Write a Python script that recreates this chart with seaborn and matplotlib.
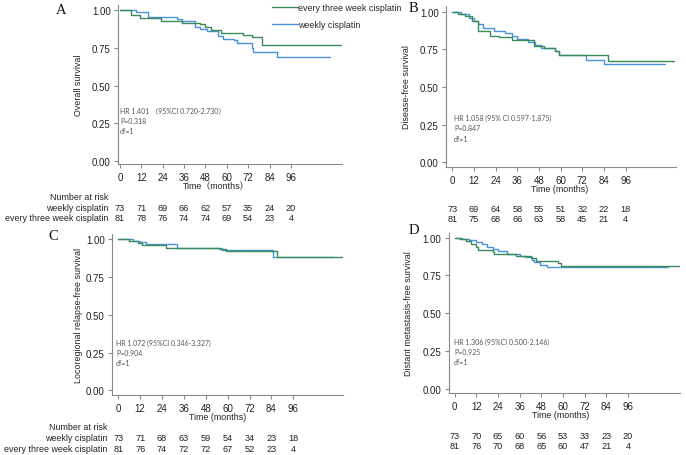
import numpy as np
import pandas as pd
import matplotlib
matplotlib.use("Agg")
import matplotlib.pyplot as plt
import matplotlib.transforms as mtrans
from matplotlib.lines import Line2D
import seaborn as sns

# ---- data (months, survival probability) ----
arms = ["weekly cisplatin", "every three week cisplatin"]
colors = {"weekly cisplatin": "#4a93dc", "every three week cisplatin": "#3b8b58"}

# A: overall survival
a_weekly_t = [0, 9, 16, 32, 35, 42, 45, 49, 55, 58, 64, 66, 74, 75, 88, 118]
a_weekly_s = [1.0, 0.99, 0.955, 0.94, 0.925, 0.89, 0.875, 0.86, 0.83, 0.81, 0.80, 0.78, 0.75, 0.72, 0.69, 0.69]
a_three_t = [0, 6, 11, 23, 35, 45, 48, 51, 57, 69, 74, 80, 124]
a_three_s = [1.0, 0.965, 0.95, 0.927, 0.916, 0.905, 0.885, 0.865, 0.85, 0.835, 0.82, 0.77, 0.77]

# B: disease-free survival
b_weekly_t = [0, 5, 9, 12, 14, 17, 23, 29, 33, 36, 42, 46, 49, 57, 59, 74, 84, 118]
b_weekly_s = [1.0, 0.985, 0.96, 0.94, 0.92, 0.89, 0.875, 0.86, 0.84, 0.82, 0.80, 0.78, 0.76, 0.74, 0.71, 0.68, 0.65, 0.65]
b_three_t = [0, 3, 7, 11, 14, 21, 26, 33, 45, 51, 57, 59, 86, 123]
b_three_s = [1.0, 0.987, 0.97, 0.94, 0.87, 0.84, 0.83, 0.81, 0.775, 0.76, 0.74, 0.715, 0.675, 0.675]

# C: locoregional relapse-free survival
c_weekly_t = [0, 8, 12, 15, 32, 54, 57, 85, 118]
c_weekly_s = [1.0, 0.99, 0.98, 0.97, 0.945, 0.94, 0.93, 0.885, 0.885]
c_three_t = [0, 6, 11, 13, 26, 55, 59, 87, 123]
c_three_s = [1.0, 0.99, 0.975, 0.96, 0.945, 0.935, 0.925, 0.885, 0.885]

# D: distant metastasis-free survival
d_weekly_t = [0, 4, 8, 12, 15, 18, 21, 24, 29, 36, 39, 43, 44, 47, 51, 118]
d_weekly_s = [1.0, 0.99, 0.985, 0.97, 0.955, 0.94, 0.925, 0.91, 0.895, 0.88, 0.87, 0.855, 0.84, 0.82, 0.805, 0.805]
d_three_t = [0, 3, 6, 9, 12, 13, 21, 22, 34, 42, 45, 57, 59, 124]
d_three_s = [1.0, 0.99, 0.975, 0.96, 0.94, 0.92, 0.905, 0.89, 0.88, 0.865, 0.845, 0.83, 0.81, 0.81]

risk_times = [0, 12, 24, 36, 48, 60, 72, 84, 96]
a_risk_weekly = [73, 71, 69, 66, 62, 57, 35, 24, 20]
a_risk_three = [81, 78, 76, 74, 74, 69, 54, 23, 4]
b_risk_weekly = [73, 69, 64, 58, 55, 51, 32, 22, 18]
b_risk_three = [81, 75, 68, 66, 63, 58, 45, 21, 4]
c_risk_weekly = [73, 71, 68, 63, 59, 54, 34, 23, 18]
c_risk_three = [81, 76, 74, 72, 72, 67, 52, 23, 4]
d_risk_weekly = [73, 70, 65, 60, 56, 53, 33, 23, 20]
d_risk_three = [81, 76, 70, 68, 65, 60, 47, 21, 4]

ylabels = ["Overall survival", "Disease-free survival",
           "Locoregional relapse-free survival", "Distant metastasis-free survival"]
xlabels = ["Time\uff08months\uff09", "Time (months)", "Time (months)", "Time (months)"]
stats = [["HR 1.401 \uff0895%CI 0.720-2.730\uff09", "P=0.318", "df=1"],
         ["HR 1.058 (95% CI 0.597-1.875)", "P=0.847", "df=1"],
         ["HR 1.072 (95%CI 0.346-3.327)", "P=0.904", "df=1"],
         ["HR 1.306 (95%CI 0.500-2.146)", "P=0.925", "df=1"]]
letters = ["A", "B", "C", "D"]

curves = [
    (a_weekly_t, a_weekly_s, a_three_t, a_three_s),
    (b_weekly_t, b_weekly_s, b_three_t, b_three_s),
    (c_weekly_t, c_weekly_s, c_three_t, c_three_s),
    (d_weekly_t, d_weekly_s, d_three_t, d_three_s),
]
risks = [(a_risk_weekly, a_risk_three), (b_risk_weekly, b_risk_three),
         (c_risk_weekly, c_risk_three), (d_risk_weekly, d_risk_three)]

# ---- layout (pixels in a 686x456 canvas) ----
W, H = 686, 456
# left, right, top, bottom of axes; x of t=0 and px per month; y of 1.0 and 0.0
layout = [
    dict(l=118.3, r=342, t=6, b=165, x0=120, pm=1.78, y1=11, y0=162,
         ylab_dx=35, xlab=(216, 187), letter=(61, 10), stat=(120, 111), rows=(198, 209, 219), names_x=108.3),
    dict(l=446.3, r=676, t=6.7, b=168.3, x0=452.3, pm=1.806, y1=12.7, y0=163.3,
         ylab_dx=35, xlab=(560, 190), letter=(413, 9), stat=(454, 118), rows=(None, 210, 220), names_x=None),
    dict(l=112.3, r=343, t=235.3, b=396.3, x0=118.3, pm=1.823, y1=240.3, y0=391.3,
         ylab_dx=29, xlab=(218, 418), letter=(53, 236), stat=(116, 343), rows=(428, 439, 450), names_x=107.5),
    dict(l=449, r=680, t=233.7, b=394.3, x0=454.7, pm=1.806, y1=238.7, y0=389.7,
         ylab_dx=36, xlab=(561, 416), letter=(414, 231), stat=(454, 342), rows=(None, 437, 447), names_x=None),
]

sns.set_style("ticks")
plt.rcParams["font.family"] = ["Liberation Sans", "Noto Sans CJK SC"]
plt.rcParams["axes.edgecolor"] = "#8a8a8a"
plt.rcParams["xtick.color"] = "#8a8a8a"
plt.rcParams["ytick.color"] = "#8a8a8a"

FS = 6.4
fig = plt.figure(figsize=(W / 100, H / 100), dpi=100)
fig.patch.set_facecolor("white")

def fx(px):
    return px / W

def fy(py):
    return 1 - py / H

for i, L in enumerate(layout):
    ax = fig.add_axes([fx(L["l"]), fy(L["b"]), (L["r"] - L["l"]) / W, (L["b"] - L["t"]) / H])
    wt, ws, tt, ts = curves[i]
    df = pd.concat([
        pd.DataFrame({"t": wt, "s": ws, "arm": arms[0]}),
        pd.DataFrame({"t": tt, "s": ts, "arm": arms[1]}),
    ])
    sns.lineplot(data=df, x="t", y="s", hue="arm", palette=colors, drawstyle="steps-post",
                 estimator=None, legend=False, linewidth=1.0, ax=ax)
    ax.set_xlim((L["l"] - L["x0"]) / L["pm"], (L["r"] - L["x0"]) / L["pm"])
    unit = L["y0"] - L["y1"]
    ax.set_ylim(-(L["b"] - L["y0"]) / unit, 1 + (L["y1"] - L["t"]) / unit)
    ax.set_xticks(risk_times)
    ax.set_yticks([0, 0.25, 0.5, 0.75, 1.0])
    ax.set_yticklabels(["0.00", "0.25", "0.50", "0.75", "1.00"])
    ax.tick_params(labelsize=7, length=3, width=0.8, pad=2.5, labelcolor="#222222")
    sns.despine(ax=ax)
    for sp in ax.spines.values():
        sp.set_linewidth(0.8)
    ax.set_facecolor("none")

    ax.set_ylabel(ylabels[i], fontsize=FS, color="#222222")
    ax.yaxis.set_label_coords(-L["ylab_dx"] / (L["r"] - L["l"]), 0.5)
    ax.set_xlabel("")
    fig.text(fx(L["xlab"][0]), fy(L["xlab"][1]), xlabels[i], fontsize=FS, color="#222222",
             ha="center", va="center")

    fig.text(fx(L["letter"][0]), fy(L["letter"][1]), letters[i], fontsize=10.5,
             family="Liberation Serif", ha="center", va="center", color="#111111")

    sx, sy = L["stat"]
    for k, line in enumerate(stats[i]):
        fig.text(fx(sx), fy(sy + 10.5 * k), line, fontsize=5.0, color="#555555",
                 family=["Lato", "Noto Sans CJK SC"], ha="left", va="center")

    # number at risk
    tr = mtrans.blended_transform_factory(ax.transData, fig.transFigure)
    head_y, r1_y, r2_y = L["rows"]
    rw, r3 = risks[i]
    for t, n1, n2 in zip(risk_times, rw, r3):
        ax.text(t, fy(r1_y), str(n1), transform=tr, ha="center", va="center", fontsize=6.6, color="#222222")
        ax.text(t, fy(r2_y), str(n2), transform=tr, ha="center", va="center", fontsize=6.6, color="#222222")
    if L["names_x"] is not None:
        rx = fx(L["names_x"])
        fig.text(rx, fy(head_y), "Number at risk", ha="right", va="center", fontsize=FS, color="#222222")
        fig.text(rx, fy(r1_y), arms[0], ha="right", va="center", fontsize=FS, color="#222222")
        fig.text(rx, fy(r2_y), arms[1], ha="right", va="center", fontsize=FS, color="#222222")

handles = [Line2D([], [], color=colors[arms[1]], lw=1.0), Line2D([], [], color=colors[arms[0]], lw=1.0)]
fig.legend(handles, [arms[1], arms[0]], loc="upper left", bbox_to_anchor=(fx(269), fy(1)),
           frameon=False, fontsize=FS, handlelength=3.0, handletextpad=0.0, labelspacing=0.95,
           borderaxespad=0, borderpad=0.3)

fig.savefig("out.png", dpi=100, facecolor="white")
